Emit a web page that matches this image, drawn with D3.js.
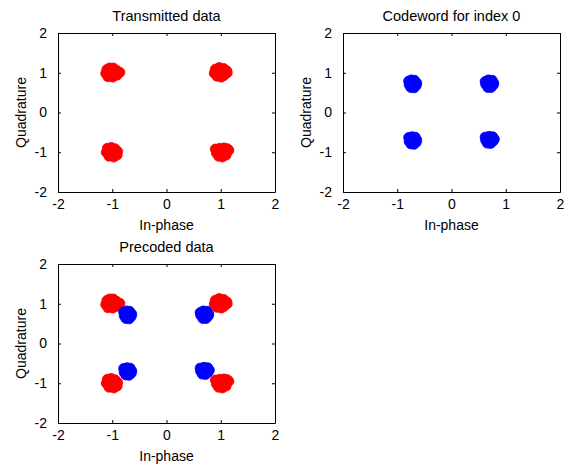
<!DOCTYPE html>
<html><head><meta charset="utf-8">
<script src="https://cdn.jsdelivr.net/npm/d3@7"></script>
<style>
html,body{margin:0;padding:0;background:#fff;}
text{font-family:"Liberation Sans",Arial,Helvetica,sans-serif;fill:#000;}
</style></head>
<body>
<svg id="chart" width="571" height="466"></svg>
<script>
// ---- data ----
const titles = ["Transmitted data", "Codeword for index 0", "Precoded data"];
const xLabel = "In-phase";
const yLabel = "Quadrature";
const tickValues = [-2, -1, 0, 1, 2];
const tickLabels = ["-2", "-1", "0", "1", "2"];

// transmitted (red) samples, four noisy QPSK clusters
const txI = [
  -1.10,-1.05,-0.98,-0.92,-1.12,-1.03,-0.95,-0.86,-1.08,-0.99,-0.91,-1.01,
   0.90, 0.97, 1.05, 1.11, 0.88, 0.99, 1.08, 1.12, 0.93, 1.01, 1.06, 0.96,
  -1.09,-1.02,-0.95,-0.90,-1.11,-1.00,-0.93,-1.06,-0.97,-0.91,-1.04,-0.99,
   0.90, 0.98, 1.06, 1.12, 0.92, 1.00, 1.09, 1.15, 0.96, 1.03, 1.10, 0.99
];
const txQ = [
   1.08, 1.12, 1.12, 1.06, 0.98, 1.00, 0.99, 1.01, 0.90, 0.89, 0.94, 1.05,
   1.09, 1.13, 1.11, 1.05, 0.99, 1.01, 0.98, 1.00, 0.91, 0.89, 0.93, 1.06,
  -0.90,-0.88,-0.91,-0.98,-1.00,-0.98,-1.04,-1.10,-1.12,-1.07,-1.02,-1.08,
  -0.92,-0.90,-0.89,-0.91,-1.02,-1.00,-0.98,-0.95,-1.10,-1.12,-1.07,-1.05
];
// codeword (blue) samples
const cwI = [
  -0.79,-0.74,-0.68,-0.64,-0.78,-0.71,-0.65,-0.75,-0.69,-0.72,
   0.62, 0.68, 0.75, 0.78, 0.63, 0.70, 0.77, 0.67, 0.73, 0.70,
  -0.79,-0.73,-0.67,-0.64,-0.78,-0.70,-0.65,-0.75,-0.69,-0.72,
   0.62, 0.69, 0.76, 0.79, 0.63, 0.71, 0.77, 0.66, 0.72, 0.70
];
const cwQ = [
   0.79, 0.82, 0.81, 0.74, 0.70, 0.71, 0.68, 0.63, 0.62, 0.75,
   0.78, 0.82, 0.81, 0.74, 0.71, 0.72, 0.69, 0.63, 0.63, 0.75,
  -0.63,-0.61,-0.62,-0.69,-0.73,-0.70,-0.75,-0.79,-0.80,-0.71,
  -0.62,-0.60,-0.61,-0.67,-0.70,-0.69,-0.72,-0.77,-0.78,-0.70
];

// ---- drawing ----
const svg = d3.select("#chart");
const panels = [
  {x0: 58, x1: 275, y0: 33, y1: 192},
  {x0: 343, x1: 560, y0: 33, y1: 192},
  {x0: 58, x1: 275, y0: 264, y1: 423}
];
const RED = "#ff0000", BLUE = "#0000ff";
const R = 5;
const tx = txI.map((v, i) => ({i: v, q: txQ[i]}));
const cw = cwI.map((v, i) => ({i: v, q: cwQ[i]}));

function drawPanel(p, title, layers) {
  const x = d3.scaleLinear().domain([-2, 2]).range([p.x0, p.x1]);
  const y = d3.scaleLinear().domain([-2, 2]).range([p.y1, p.y0]);
  const g = svg.append("g");
  const clipId = "clip" + p.x0 + "_" + p.y0;
  svg.append("clipPath").attr("id", clipId).append("rect")
    .attr("x", p.x0).attr("y", p.y0).attr("width", p.x1 - p.x0).attr("height", p.y1 - p.y0);
  const pts = g.append("g").attr("clip-path", `url(#${clipId})`);
  layers.forEach(L => {
    pts.append("g").selectAll("circle").data(L.data).join("circle")
      .attr("cx", d => x(d.i)).attr("cy", d => y(d.q)).attr("r", R)
      .attr("fill", L.color).attr("stroke", L.color).attr("stroke-width", 0.8);
  });
  const fmt = (d) => tickLabels[tickValues.indexOf(d)];
  // axes (ticks inward, box on)
  const bottom = g.append("g").attr("transform", `translate(0,${p.y1})`)
    .call(d3.axisBottom(x).tickValues(tickValues).tickFormat(fmt).tickSizeInner(-3).tickSizeOuter(0).tickPadding(7));
  const top = g.append("g").attr("transform", `translate(0,${p.y0})`)
    .call(d3.axisTop(x).tickValues(tickValues).tickFormat("").tickSizeInner(-3).tickSizeOuter(0));
  const left = g.append("g").attr("transform", `translate(${p.x0},0)`)
    .call(d3.axisLeft(y).tickValues(tickValues).tickFormat(fmt).tickSizeInner(-3).tickSizeOuter(0).tickPadding(11));
  const right = g.append("g").attr("transform", `translate(${p.x1},0)`)
    .call(d3.axisRight(y).tickValues(tickValues).tickFormat("").tickSizeInner(-3).tickSizeOuter(0));
  [bottom, top, left, right].forEach(a => {
    a.select(".domain").attr("stroke", "#000").attr("stroke-width", 1);
    a.selectAll(".tick line").attr("stroke", "#000");
    a.selectAll("text").attr("font-size", 14).attr("font-family", "Liberation Sans, Arial, sans-serif").attr("fill", "#000");
  });
  g.append("text").attr("x", (p.x0 + p.x1) / 2).attr("y", p.y0 - 12)
    .attr("text-anchor", "middle").attr("font-size", 14.5).text(title);
  g.append("text").attr("x", (p.x0 + p.x1) / 2).attr("y", p.y1 + 38)
    .attr("text-anchor", "middle").attr("font-size", 14).text(xLabel);
  g.append("text").attr("transform", `translate(${p.x0 - 32},${(p.y0 + p.y1) / 2}) rotate(-90)`)
    .attr("text-anchor", "middle").attr("font-size", 14).text(yLabel);
}

drawPanel(panels[0], titles[0], [{data: tx, color: RED}]);
drawPanel(panels[1], titles[1], [{data: cw, color: BLUE}]);
drawPanel(panels[2], titles[2], [
  {data: tx.filter(d => d.i < 0), color: RED},
  {data: cw, color: BLUE},
  {data: tx.filter(d => d.i > 0), color: RED}
]);
</script>
</body></html>
